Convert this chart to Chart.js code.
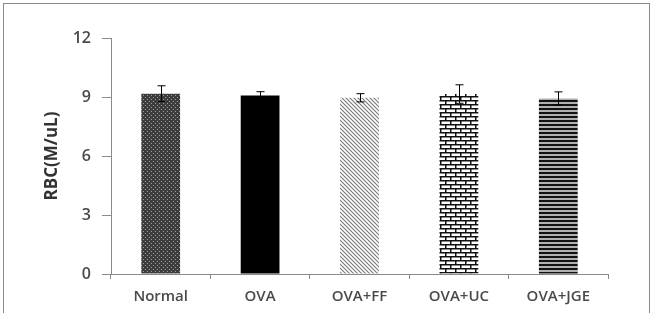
<!DOCTYPE html>
<html>
<head>
<meta charset="utf-8">
<script src="https://cdn.jsdelivr.net/npm/chart.js@4/dist/chart.umd.min.js"></script>
<style>
  html, body { margin: 0; padding: 0; background: #fff; overflow: hidden; }
  #frame { position: absolute; left: 3px; top: 3px; width: 647px; height: 330px; border: 1px solid #8a8a8a; box-sizing: border-box; }
  canvas { position: absolute; left: 0; top: 0; }
</style>
</head>
<body>
<div id="frame"></div>
<canvas id="rbc" width="660" height="313"></canvas>
<script>
const groups = ['Normal', 'OVA', 'OVA+FF', 'OVA+UC', 'OVA+JGE'];
const rbcMean = [9.17, 9.07, 8.96, 9.15, 8.93];
const rbcErr = [0.40, 0.20, 0.21, 0.47, 0.33];
const yTicks = [0, 3, 6, 9, 12];

function tile(w, h, draw) {
    const c = document.createElement('canvas');
    c.width = w; c.height = h;
    const g = c.getContext('2d');
    draw(g);
    return g.createPattern(c, 'repeat');
}

// fills that imitate the Excel hatch patterns
const dotted = tile(4, 4, g => {
    g.fillStyle = '#3c3c3c'; g.fillRect(0, 0, 4, 4);
    g.fillStyle = '#a0a0a0'; g.fillRect(1, 1, 1, 1); g.fillRect(3, 3, 1, 1);
});
const diagonal = tile(4, 4, g => {
    g.fillStyle = '#ffffff'; g.fillRect(0, 0, 4, 4);
    g.strokeStyle = '#777777'; g.lineWidth = 1.1;
    g.beginPath();
    g.moveTo(-1, -1); g.lineTo(5, 5);
    g.moveTo(-1, 3); g.lineTo(1, 5);
    g.moveTo(3, -1); g.lineTo(5, 1);
    g.stroke();
});
const brick = tile(10, 8, g => {
    g.fillStyle = '#ffffff'; g.fillRect(0, 0, 10, 8);
    g.fillStyle = '#111111';
    g.fillRect(0, 0, 10, 1.5); g.fillRect(0, 4, 10, 1.5);
    g.fillRect(0, 0, 1.5, 4); g.fillRect(5, 4, 1.5, 4);
});
const stripes = tile(4, 4, g => {
    g.fillStyle = '#b0b0b0'; g.fillRect(0, 0, 4, 4);
    g.fillStyle = '#111111'; g.fillRect(0, 0, 4, 2);
});

const errorBars = {
    id: 'errorBars',
    afterDatasetsDraw(chart) {
        const ctx = chart.ctx;
        const y = chart.scales.y;
        const meta = chart.getDatasetMeta(0);
        ctx.save();
        ctx.strokeStyle = '#000';
        ctx.lineWidth = 1;
        meta.data.forEach((bar, i) => {
            const x = Math.round(bar.x) + 0.5;
            const top = y.getPixelForValue(rbcMean[i] + rbcErr[i]);
            const bot = y.getPixelForValue(rbcMean[i] - rbcErr[i]);
            ctx.beginPath();
            ctx.moveTo(x, top); ctx.lineTo(x, bot);
            ctx.moveTo(x - 4, top); ctx.lineTo(x + 4, top);
            ctx.moveTo(x - 4, bot); ctx.lineTo(x + 4, bot);
            ctx.stroke();
        });
        ctx.restore();
    }
};

new Chart(document.getElementById('rbc'), {
    type: 'bar',
    data: {
        labels: groups,
        datasets: [{
            data: rbcMean,
            backgroundColor: [dotted, '#000000', diagonal, brick, stripes],
            borderWidth: 0,
            categoryPercentage: 1,
            barPercentage: 0.39
        }]
    },
    options: {
        responsive: false,
        animation: false,
        layout: { padding: { left: 42, right: 52, top: 38, bottom: 0 } },
        plugins: { legend: { display: false }, tooltip: { enabled: false } },
        scales: {
            x: {
                grid: { offset: true, drawOnChartArea: false, color: '#8a8a8a', tickLength: 5 },
                border: { color: '#8a8a8a' },
                ticks: { color: '#4a4a4a', font: { family: 'Open Sans', size: 15, weight: '600' }, padding: 9 },
                afterFit: s => { s.height = 39; }
            },
            y: {
                min: 0, max: 12,
                afterBuildTicks: s => { s.ticks = yTicks.map(v => ({ value: v })); },
                grid: { drawOnChartArea: false, color: '#8a8a8a', tickLength: 9 },
                border: { color: '#8a8a8a' },
                ticks: { color: '#4a4a4a', font: { family: 'Open Sans', size: 16, weight: '600' }, padding: 11 },
                title: { display: true, text: 'RBC(M/uL)', color: '#333', font: { family: 'Open Sans', size: 17, weight: '700' }, padding: 0 },
                afterFit: s => { s.width = 69; }
            }
        }
    },
    plugins: [errorBars]
});
</script>
</body>
</html>
